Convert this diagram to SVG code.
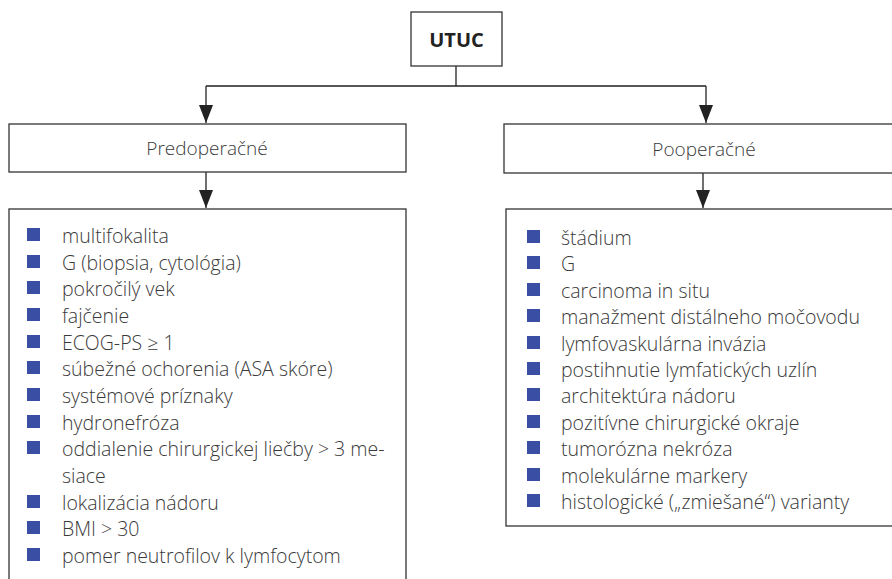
<svg xmlns="http://www.w3.org/2000/svg" width="892" height="579" viewBox="0 0 892 579">
<defs>
<marker id="arr" viewBox="0 0 18 14" refX="18" refY="7" markerWidth="18" markerHeight="14" markerUnits="userSpaceOnUse" orient="auto">
<path d="M0,0 L18,7 L0,14 z" fill="#222"/>
</marker>
<style>
.box{fill:#fff;stroke:#333;stroke-width:1.3}
.t{font-family:"Open Sans","Liberation Sans",sans-serif;font-weight:300;font-size:19.5px;fill:#3a3a3a}
.h{font-family:"Open Sans","Liberation Sans",sans-serif;font-weight:300;font-size:19px;fill:#3a3a3a;text-anchor:middle}
.b{fill:#3a4fa3}
.c{stroke:#222;stroke-width:1.3;fill:none}
</style>
</defs>
<rect width="892" height="579" fill="#fff"/>
<g id="connectors">
<path class="c" d="M456,66 V86 M206,86 H706"/>
<path class="c" d="M206,86 V123" marker-end="url(#arr)"/>
<path class="c" d="M706,86 V123" marker-end="url(#arr)"/>
<path class="c" d="M206,172 V208" marker-end="url(#arr)"/>
<path class="c" d="M703,173 V208" marker-end="url(#arr)"/>
</g>
<g id="utuc">
<rect class="box" x="411" y="12" width="91" height="54"/>
<text x="456.5" y="47" text-anchor="middle" style="font-family:'Open Sans','Liberation Sans',sans-serif;font-weight:700;font-size:20px;fill:#222">UTUC</text>
</g>
<g id="predoperacne">
<rect class="box" x="9" y="124" width="397" height="48"/>
<text class="h" x="207" y="155">Predoperačné</text>
</g>
<g id="pooperacne">
<rect class="box" x="504" y="124" width="400" height="49"/>
<text class="h" x="704" y="156">Pooperačné</text>
</g>
<g id="pre-list">
<rect class="box" x="9" y="209" width="397" height="380"/>
<g class="b">
<rect x="27" y="228" width="13" height="13"/>
<rect x="27" y="255" width="13" height="13"/>
<rect x="27" y="281" width="13" height="13"/>
<rect x="27" y="308" width="13" height="13"/>
<rect x="27" y="335" width="13" height="13"/>
<rect x="27" y="361" width="13" height="13"/>
<rect x="27" y="388" width="13" height="13"/>
<rect x="27" y="415" width="13" height="13"/>
<rect x="27" y="441" width="13" height="13"/>
<rect x="27" y="495" width="13" height="13"/>
<rect x="27" y="521" width="13" height="13"/>
<rect x="27" y="548" width="13" height="13"/>
</g>
<text class="t" x="62" y="243">multifokalita</text>
<text class="t" x="62" y="270">G (biopsia, cytológia)</text>
<text class="t" x="62" y="296">pokročilý vek</text>
<text class="t" x="62" y="323">fajčenie</text>
<text class="t" x="62" y="350">ECOG-PS ≥ 1</text>
<text class="t" x="62" y="376">súbežné ochorenia (ASA skóre)</text>
<text class="t" x="62" y="403">systémové príznaky</text>
<text class="t" x="62" y="430">hydronefróza</text>
<text class="t" x="62" y="456">oddialenie chirurgickej liečby &gt; 3 me-</text>
<text class="t" x="62" y="483">siace</text>
<text class="t" x="62" y="510">lokalizácia nádoru</text>
<text class="t" x="62" y="536">BMI &gt; 30</text>
<text class="t" x="62" y="563">pomer neutrofilov k lymfocytom</text>
</g>
<g id="post-list">
<rect class="box" x="506" y="209" width="400" height="317"/>
<g class="b">
<rect x="527" y="230" width="13" height="13"/>
<rect x="527" y="256" width="13" height="13"/>
<rect x="527" y="283" width="13" height="13"/>
<rect x="527" y="309" width="13" height="13"/>
<rect x="527" y="336" width="13" height="13"/>
<rect x="527" y="362" width="13" height="13"/>
<rect x="527" y="388" width="13" height="13"/>
<rect x="527" y="415" width="13" height="13"/>
<rect x="527" y="441" width="13" height="13"/>
<rect x="527" y="468" width="13" height="13"/>
<rect x="527" y="494" width="13" height="13"/>
</g>
<text class="t" x="561" y="245">štádium</text>
<text class="t" x="561" y="271">G</text>
<text class="t" x="561" y="298">carcinoma in situ</text>
<text class="t" x="561" y="324">manažment distálneho močovodu</text>
<text class="t" x="561" y="351">lymfovaskulárna invázia</text>
<text class="t" x="561" y="377">postihnutie lymfatických uzlín</text>
<text class="t" x="561" y="403">architektúra nádoru</text>
<text class="t" x="561" y="430">pozitívne chirurgické okraje</text>
<text class="t" x="561" y="456">tumorózna nekróza</text>
<text class="t" x="561" y="483">molekulárne markery</text>
<text class="t" x="561" y="509">histologické („zmiešané“) varianty</text>
</g>
</svg>
